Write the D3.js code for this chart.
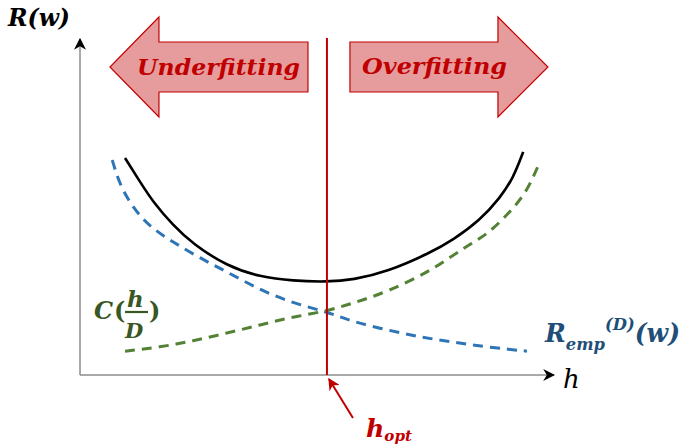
<!DOCTYPE html>
<html>
<head>
<meta charset="utf-8">
<script src="https://cdn.jsdelivr.net/npm/d3@7"></script>
<style>
  html, body { margin: 0; padding: 0; background: #fff; }
  svg { display: block; }
  text { font-family: "DejaVu Serif", "Liberation Serif", serif; }
</style>
</head>
<body>
<svg id="chart" width="684" height="447"></svg>
<script>
// Model complexity h (arbitrary units 0..100) against risk (arbitrary units 0..100)
const totalRiskH = [9.5, 12.7, 15.4, 19.6, 23.8, 31.0, 38.0, 44.9, 52.1, 57.6, 64.8, 73.8, 78.7, 84.4, 88.6, 91.4, 93.5];
const totalRisk  = [64.6, 57.4, 51.5, 44.6, 39.0, 32.4, 29.2, 28.0, 27.7, 28.3, 30.7, 36.3, 40.2, 46.1, 52.7, 58.6, 66.4];

const empRiskH = [6.8, 8.4, 11.2, 14.8, 19.6, 25.3, 31.0, 38.0, 44.9, 52.1, 57.6, 64.8, 71.7, 78.7, 85.9, 94.3];
const empRisk  = [64.0, 56.5, 49.7, 44.0, 39.6, 34.8, 30.7, 25.3, 21.4, 18.8, 15.8, 13.4, 11.3, 9.8, 8.3, 7.1];

const capacityH = [9.5, 16.9, 23.8, 31.0, 38.0, 44.9, 52.1, 57.6, 64.8, 74.5, 80.8, 85.9, 90.7, 94.3, 97.0];
const capacity  = [7.1, 8.3, 10.1, 12.5, 14.9, 17.3, 19.0, 21.4, 24.7, 31.3, 37.8, 41.7, 48.5, 54.5, 63.4];

const hOpt = 52.1;
const regionLabels = ["Underfitting", "Overfitting"];

const svg = d3.select("#chart");
const x = d3.scaleLinear().domain([0, 100]).range([80, 554]);
const y = d3.scaleLinear().domain([0, 100]).range([375, 39]);

const RED = "#c00000";
const BI = "font-weight:bold;font-style:italic";

// arrowhead markers
const defs = svg.append("defs");
function marker(id, color) {
  defs.append("marker")
    .attr("id", id).attr("viewBox", "0 0 10 10")
    .attr("refX", 9).attr("refY", 5)
    .attr("markerWidth", 12).attr("markerHeight", 12)
    .attr("markerUnits", "userSpaceOnUse")
    .attr("orient", "auto")
    .append("path").attr("d", "M0,0 L10,5 L0,10 L3,5 Z").attr("fill", color);
}
marker("arrBlack", "#000");
marker("arrRed", RED);

// axes
svg.append("line")
  .attr("x1", x(0)).attr("y1", y(0)).attr("x2", x(0)).attr("y2", y(100))
  .attr("stroke", "#8c8c8c").attr("stroke-width", 1.5)
  .attr("marker-end", "url(#arrBlack)");
svg.append("line")
  .attr("x1", x(0)).attr("y1", y(0)).attr("x2", x(100)).attr("y2", y(0))
  .attr("stroke", "#8c8c8c").attr("stroke-width", 1.5)
  .attr("marker-end", "url(#arrBlack)");

// direction arrows (shapes placed around the optimum)
const xo = x(hOpt);
const shaftTop = 42, shaftBot = 92, headTop = 17, headBot = 117, midY = 67;
const leftArrow = [[xo - 19, shaftTop], [xo - 168, shaftTop], [xo - 168, headTop], [xo - 217, midY],
                   [xo - 168, headBot], [xo - 168, shaftBot], [xo - 19, shaftBot]];
const rightArrow = [[xo + 23, shaftTop], [xo + 171, shaftTop], [xo + 171, headTop], [xo + 221, midY],
                    [xo + 171, headBot], [xo + 171, shaftBot], [xo + 23, shaftBot]];
[leftArrow, rightArrow].forEach(pts => {
  svg.append("path")
    .attr("d", d3.line()(pts) + "Z")
    .attr("fill", "#e69c9d")
    .attr("stroke", RED).attr("stroke-width", 1.2);
});
svg.append("text").text(regionLabels[0]).attr("style", BI)
  .attr("x", 137).attr("y", 75).attr("font-size", 23)
  .attr("textLength", 163).attr("lengthAdjust", "spacingAndGlyphs")
  .attr("fill", RED);
svg.append("text").text(regionLabels[1]).attr("style", BI)
  .attr("x", 362).attr("y", 74).attr("font-size", 23)
  .attr("textLength", 145).attr("lengthAdjust", "spacingAndGlyphs")
  .attr("fill", RED);

// curves
const line = d3.line().x(d => x(d[0])).y(d => y(d[1])).curve(d3.curveBasis);
svg.append("path").datum(d3.zip(empRiskH, empRisk))
  .attr("d", line).attr("fill", "none")
  .attr("stroke", "#2e75b6").attr("stroke-width", 3).attr("stroke-dasharray", "10,7");
svg.append("path").datum(d3.zip(capacityH, capacity))
  .attr("d", line).attr("fill", "none")
  .attr("stroke", "#548235").attr("stroke-width", 3).attr("stroke-dasharray", "10,7");
svg.append("path").datum(d3.zip(totalRiskH, totalRisk))
  .attr("d", line).attr("fill", "none")
  .attr("stroke", "#000").attr("stroke-width", 2.6);

// optimum line
svg.append("line")
  .attr("x1", xo).attr("x2", xo).attr("y1", 38).attr("y2", y(0))
  .attr("stroke", RED).attr("stroke-width", 2);

// pointer to h_opt
svg.append("line")
  .attr("x1", xo + 26).attr("y1", y(0) + 43).attr("x2", xo + 2).attr("y2", y(0) + 4)
  .attr("stroke", RED).attr("stroke-width", 2)
  .attr("marker-end", "url(#arrRed)");

// labels
svg.append("text").text("R(w)").attr("style", BI)
  .attr("x", 8).attr("y", 26).attr("font-size", 24).attr("fill", "#000")
  .attr("textLength", 62).attr("lengthAdjust", "spacingAndGlyphs");

svg.append("text").text("h").attr("style", "font-style:italic")
  .attr("x", 563).attr("y", 388).attr("font-size", 26).attr("fill", "#000");

const ho = svg.append("text").attr("style", BI)
  .attr("x", 366).attr("y", 437).attr("font-size", 25).attr("fill", RED)
  .attr("textLength", 46).attr("lengthAdjust", "spacingAndGlyphs");
ho.append("tspan").text("h");
ho.append("tspan").text("opt").attr("font-size", 15).attr("dy", 4);

// C(h/D)
const GREEN = "#385723";
const cg = svg.append("g").attr("fill", GREEN);
cg.append("text").text("C").attr("style", BI).attr("x", 94).attr("y", 319).attr("font-size", 24);
cg.append("text").text("(").attr("x", 114).attr("y", 319).attr("font-size", 24).attr("style", "font-weight:bold");
cg.append("text").text("h").attr("style", BI).attr("x", 127).attr("y", 307).attr("font-size", 23);
cg.append("line").attr("x1", 125).attr("x2", 148).attr("y1", 312).attr("y2", 312)
  .attr("stroke", GREEN).attr("stroke-width", 2.2);
cg.append("text").text("D").attr("style", BI).attr("x", 125).attr("y", 338).attr("font-size", 21);
cg.append("text").text(")").attr("x", 149).attr("y", 319).attr("font-size", 24).attr("style", "font-weight:bold");

// R_emp^(D)(w)
const BLUE = "#1f4e79";
const rg = svg.append("text").attr("style", BI)
  .attr("x", 545).attr("y", 342).attr("font-size", 26).attr("fill", BLUE)
  .attr("textLength", 135).attr("lengthAdjust", "spacingAndGlyphs");
rg.append("tspan").text("R");
rg.append("tspan").text("emp").attr("font-size", 17).attr("dy", 8);
rg.append("tspan").text("(D)").attr("font-size", 17).attr("dy", -20);
rg.append("tspan").text("(w)").attr("dy", 12);
</script>
</body>
</html>
